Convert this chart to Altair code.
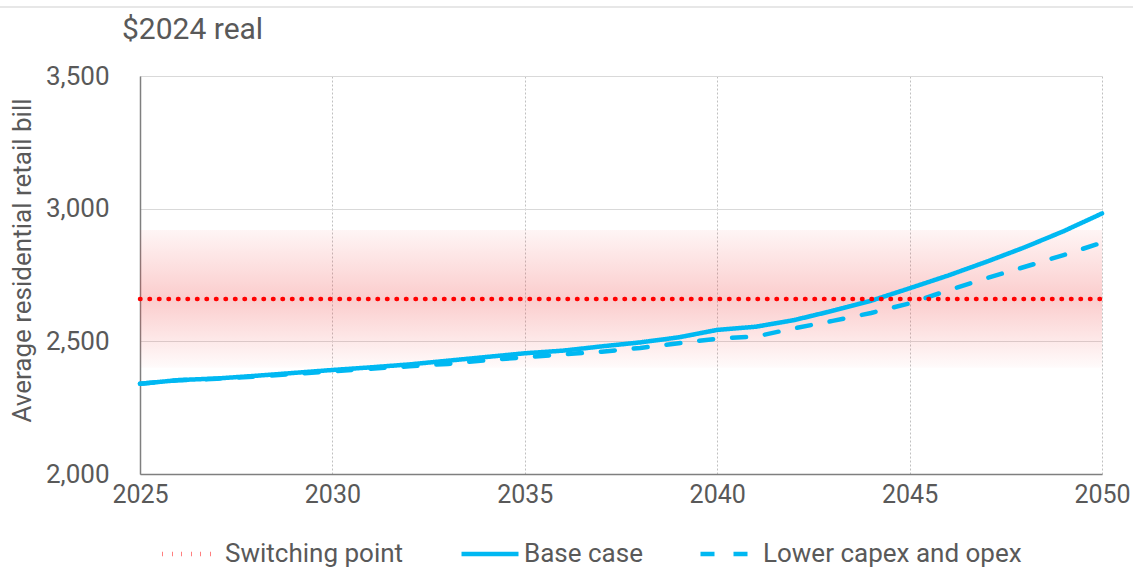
import altair as alt
import pandas as pd

# Years on the horizontal axis
years = list(range(2025, 2051))

# Average residential retail bill, $2024 real
base_case = [2340, 2354, 2360, 2370, 2381, 2392, 2402, 2413, 2427, 2441,
             2455, 2465, 2481, 2496, 2515, 2543, 2555, 2580, 2615, 2653,
             2700, 2748, 2800, 2855, 2915, 2982]
lower_capex_opex = [2340, 2353, 2359, 2367, 2377, 2387, 2397, 2406, 2415, 2429,
                    2440, 2451, 2461, 2475, 2493, 2510, 2518, 2549, 2577, 2607,
                    2643, 2692, 2738, 2781, 2825, 2872]

# Switching point and its uncertainty range
switching_point = 2660
switching_low = 2400
switching_high = 2920

series_names = ["Switching point", "Base case", "Lower capex and opex"]
unit_note = "$2024 real"

rows = []
for y, v in zip(years, base_case):
    rows.append({"year": y, "bill": v, "series": "Base case"})
for y, v in zip(years, lower_capex_opex):
    rows.append({"year": y, "bill": v, "series": "Lower capex and opex"})
for y in (years[0], years[-1]):
    rows.append({"year": y, "bill": switching_point, "series": "Switching point"})
lines_df = pd.DataFrame(rows)

band_df = pd.DataFrame([{"x": years[0], "x2": years[-1],
                         "lo": switching_low, "hi": switching_high,
                         "note": unit_note}])

FONT = "Roboto"
GREY = "#595959"
BLUE = "#00b8f2"

x_scale = alt.Scale(domain=[2025, 2050], nice=False, zero=False)
y_scale = alt.Scale(domain=[2000, 3500], nice=False, zero=False)

band_fill = alt.Gradient(
    gradient="linear",
    stops=[
        alt.GradientStop(color="rgba(240,60,60,0.05)", offset=0),
        alt.GradientStop(color="rgba(240,60,60,0.26)", offset=0.5),
        alt.GradientStop(color="rgba(240,60,60,0.02)", offset=1),
    ],
    x1=0, x2=0, y1=0, y2=1,
)

band = alt.Chart(band_df).mark_rect(color=band_fill).encode(
    x=alt.X("x:Q", scale=x_scale),
    x2="x2:Q",
    y=alt.Y("hi:Q", scale=y_scale),
    y2="lo:Q",
)

lines = alt.Chart(lines_df).mark_line(strokeWidth=4.5, strokeCap="round").encode(
    x=alt.X(
        "year:Q",
        scale=x_scale,
        axis=alt.Axis(
            title=None, values=[2025, 2030, 2035, 2040, 2045, 2050], format="d",
            grid=True, gridDash=[2, 2], gridColor="#c0c0c0", gridWidth=1,
            ticks=False, domainColor="#7f7f7f", domainWidth=1.5,
            labelFont=FONT, labelFontSize=25, labelColor=GREY, labelPadding=8,
            labelFlush=False,
        ),
    ),
    y=alt.Y(
        "bill:Q",
        scale=y_scale,
        axis=alt.Axis(
            title="Average residential retail bill",
            values=[2000, 2500, 3000, 3500], format=",d",
            grid=True, gridColor="#d9d9d9", gridWidth=1.2,
            ticks=False, domainColor="#7f7f7f", domainWidth=1.5,
            labelFont=FONT, labelFontSize=26, labelColor=GREY, labelPadding=31,
            titleFont=FONT, titleFontSize=26, titleColor=GREY, titleFontWeight="normal",
            titlePadding=10, titleY=184,
        ),
    ),
    color=alt.Color(
        "series:N",
        scale=alt.Scale(domain=series_names, range=["#ff0000", BLUE, BLUE]),
        legend=alt.Legend(
            title=None, orient="none", direction="horizontal",
            legendX=20, legendY=447,
            symbolType="stroke", symbolSize=3249, symbolStrokeWidth=4.5,
            labelFont=FONT, labelFontSize=26, labelColor=GREY, labelLimit=500,
            labelOffset=3, columnPadding=48,
        ),
    ),
    strokeDash=alt.StrokeDash(
        "series:N",
        scale=alt.Scale(domain=series_names, range=[[0.5, 9], [1, 0], [14, 19]]),
        legend=None,
    ),
    detail="series:N",
)

top_rule = alt.Chart(band_df).mark_rule(color="#cfcfcf", strokeWidth=1).encode(
    x=alt.value(-140), x2=alt.value(993), y=alt.value(-69)
)

unit_text = alt.Chart(band_df).mark_text(
    font=FONT, fontSize=30, color=GREY, align="left", baseline="alphabetic"
).encode(
    x=alt.value(-18), y=alt.value(-37), text="note:N"
)

chart = (
    alt.layer(band, lines, top_rule, unit_text)
    .properties(
        width=962,
        height=398,
        padding={"left": 140, "top": 76, "right": 31, "bottom": 93},
        autosize=alt.AutoSizeParams(type="none"),
    )
    .configure_view(stroke=None)
)

chart.save("out.html", embed_options={"renderer": "svg", "actions": False})
